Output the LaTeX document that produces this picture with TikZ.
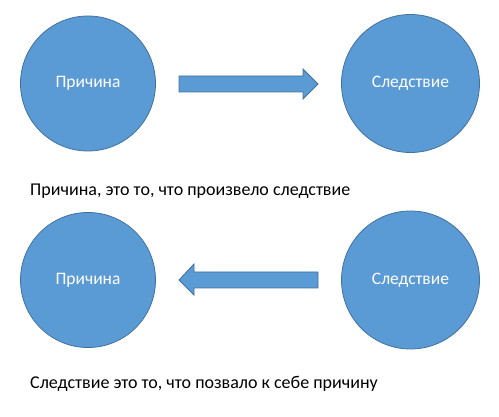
\documentclass[tikz,border=0pt]{standalone}
\usepackage{fontspec}
\setmainfont{Carlito}
\definecolor{circfill}{HTML}{5B9BD5}
\definecolor{circline}{HTML}{41719C}
\tikzset{
  bubble/.style={circle, fill=circfill, draw=circline, line width=0.8pt, minimum size=135pt, inner sep=0pt, text=white, font=\fontsize{17.5}{20}\selectfont},
  blockarrow/.style={fill=circfill, draw=circline, line width=0.8pt},
  caption/.style={anchor=base west, inner sep=0pt, font=\fontsize{18}{21}\selectfont}
}
\begin{document}
\begin{tikzpicture}[x=1pt,y=-1pt]
\useasboundingbox (0,0) rectangle (499,417);
% top row
\node[bubble] (c1) at (88,83.5) {Причина};
\node[bubble, minimum size=138pt] (e1) at (410.5,83.5) {Следствие};
\draw[blockarrow] (179,76) -- (303,76) -- (303,69) -- (318,84) -- (303,99) -- (303,92) -- (179,92) -- cycle;
\node[caption] (t1) at (30,196) {Причина, это то, что произвело следствие};
% bottom row
\node[bubble] (c2) at (88,280) {Причина};
\node[bubble, minimum size=138pt] (e2) at (410.5,280) {Следствие};
\draw[blockarrow] (318,272) -- (194,272) -- (194,264) -- (179,280) -- (194,295) -- (194,288) -- (318,288) -- cycle;
\node[caption] (t2) at (30,389) {Следствие это то, что позвало к себе причину};
\end{tikzpicture}
\end{document}
